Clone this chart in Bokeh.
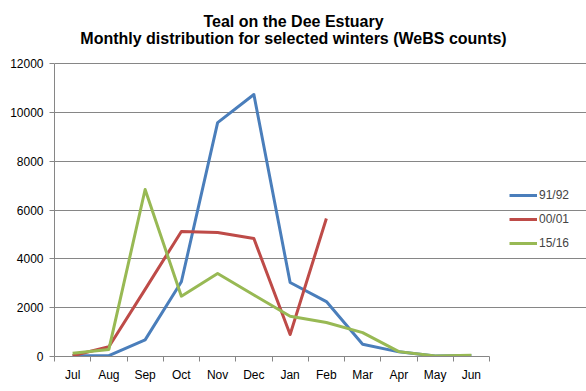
from bokeh.plotting import figure
from bokeh.models import (Range1d, FixedTicker, Legend, LegendItem, Label)
from bokeh.embed import file_html
from bokeh.resources import INLINE

months = ["Jul", "Aug", "Sep", "Oct", "Nov", "Dec", "Jan", "Feb", "Mar", "Apr", "May", "Jun"]
series_names = ["91/92", "00/01", "15/16"]
s9192 = [30, 40, 680, 3060, 9580, 10730, 3030, 2250, 500, 190, 20, 40]
s0001 = [30, 400, 2750, 5120, 5080, 4830, 900, 5650]
s1516 = [130, 290, 6840, 2470, 3400, 2520, 1650, 1390, 980, 200, 20, 50]
y_ticks = [0, 2000, 4000, 6000, 8000, 10000, 12000]
colors = ["#4A7EBB", "#BE4B48", "#98B954"]

FONT = "Liberation Sans"
GRAY = "#868686"

W, H = 586, 391
LEFT, BOTTOM = 54, 35          # axis panels
PLOT_W, PLOT_H = 435, 293      # size of the data area (axes extent)
n = len(months)
ymax = y_ticks[-1]
frame_w, frame_h = W - LEFT, H - BOTTOM
x_end = n * frame_w / PLOT_W
y_end = ymax * frame_h / PLOT_H

p = figure(width=W, height=H, output_backend="svg", toolbar_location=None,
           x_range=Range1d(0, x_end), y_range=Range1d(0, y_end),
           min_border_left=LEFT, min_border_right=0, min_border_top=0, min_border_bottom=BOTTOM)
p.outline_line_color = None
p.xgrid.visible = False
p.ygrid.grid_line_color = GRAY
p.ygrid.grid_line_width = 1
p.ygrid.bounds = (0, n)

centers = [i + 0.5 for i in range(n)]
bounds = list(range(n + 1))
p.xaxis.ticker = FixedTicker(ticks=centers, minor_ticks=bounds)
p.xaxis.bounds = (0, n)
p.xaxis.major_label_overrides = {c: m for c, m in zip(centers, months)}
p.xaxis.major_tick_line_color = None
p.xaxis.major_tick_out = 5
p.xaxis.major_tick_in = 0
p.xaxis.minor_tick_line_color = GRAY
p.xaxis.minor_tick_out = 5
p.xaxis.minor_tick_in = 0
p.xaxis.major_label_standoff = 6

p.yaxis.ticker = FixedTicker(ticks=y_ticks)
p.yaxis.bounds = (0, ymax)
p.yaxis.minor_tick_line_color = None
p.yaxis.major_tick_out = 5
p.yaxis.major_tick_in = 0
p.yaxis.major_tick_line_color = GRAY
p.yaxis.major_label_standoff = 6

for ax in (p.xaxis[0], p.yaxis[0]):
    ax.axis_line_color = GRAY
    ax.major_label_text_font = FONT
    ax.major_label_text_font_size = "12px"
    ax.major_label_text_color = "#000000"

renderers = []
for data, col in zip([s9192, s0001, s1516], colors):
    xs = centers[:len(data)]
    r = p.line(xs, data, line_color=col, line_width=3, line_join="round")
    renderers.append(r)

legend = Legend(items=[LegendItem(label=nm, renderers=[r]) for nm, r in zip(series_names, renderers)],
                location=(455, 103), padding=0, margin=0, spacing=4,
                glyph_width=28, glyph_height=20, label_standoff=2,
                label_text_font=FONT, label_text_font_size="12px",
                border_line_color=None, background_fill_alpha=0)
p.add_layout(legend, "center")

for txt, yy in [("Teal on the Dee Estuary", 356 - 20.7),
                ("Monthly distribution for selected winters (WeBS counts)", 356 - 38.3)]:
    p.add_layout(Label(x=293 - LEFT, y=yy, x_units="screen", y_units="screen", text=txt,
                       text_align="center", text_baseline="middle",
                       text_font=FONT, text_font_size="16px", text_font_style="bold",
                       text_color="#000000"))

open("out.html", "w").write(file_html(p, INLINE))
